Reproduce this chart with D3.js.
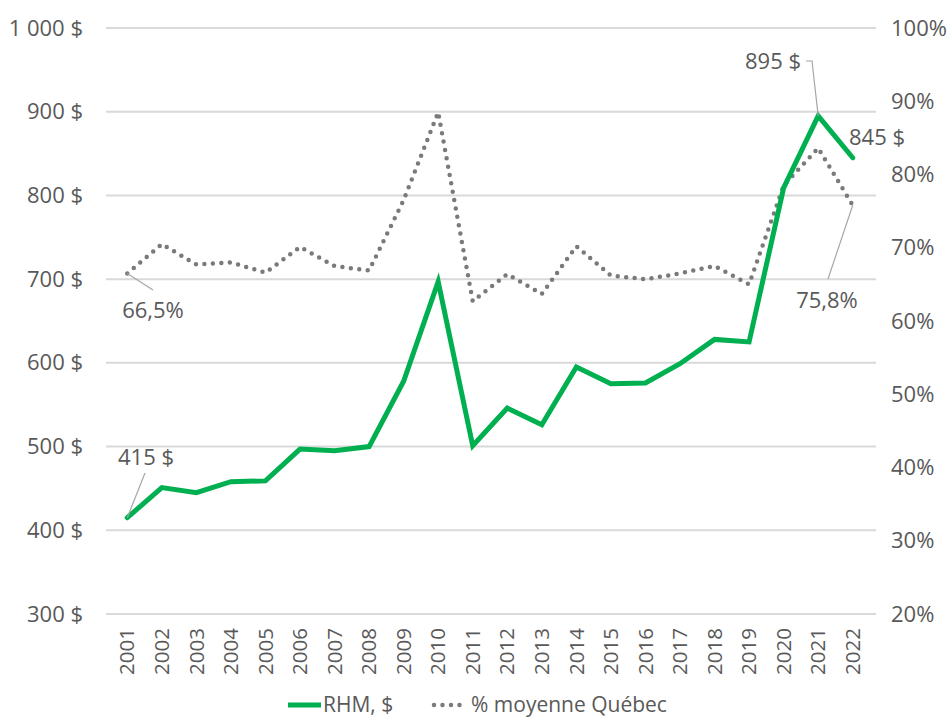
<!DOCTYPE html>
<html>
<head>
<meta charset="utf-8">
<script src="https://cdn.jsdelivr.net/npm/d3@7"></script>
<style>
  body { margin: 0; background: #fff; }
  text { font-family: "Open Sans", sans-serif; fill: #595959; }
</style>
</head>
<body>
<div id="chart"></div>
<script>
// Data
const years = ["2001", "2002", "2003", "2004", "2005", "2006", "2007", "2008", "2009", "2010", "2011",
  "2012", "2013", "2014", "2015", "2016", "2017", "2018", "2019", "2020", "2021", "2022"];
const rhm = [415, 451, 445, 458, 459, 497, 495, 500, 578, 697, 501,
  546, 526, 595, 575, 576, 599, 628, 625, 809, 895, 845];
const pctQuebec = [66.5, 70.5, 67.7, 68.0, 66.6, 70.1, 67.5, 66.9, 76.5, 88.5, 62.7,
  66.4, 63.7, 70.2, 66.2, 65.7, 66.5, 67.5, 65.0, 78.5, 83.6, 75.8];
const leftTicks = [300, 400, 500, 600, 700, 800, 900, 1000];
const rightTicks = [20, 30, 40, 50, 60, 70, 80, 90, 100];

const width = 952, height = 720;
const margin = { top: 28, right: 82, bottom: 106, left: 110 };

const svg = d3.select("#chart").append("svg")
  .attr("width", width)
  .attr("height", height);

const x = d3.scaleBand()
  .domain(years)
  .range([margin.left, width - margin.right]);

const yLeft = d3.scaleLinear()
  .domain([300, 1000])
  .range([height - margin.bottom, margin.top]);

const yRight = d3.scaleLinear()
  .domain([20, 100])
  .range([height - margin.bottom, margin.top]);

const cx = (d) => x(d) + x.bandwidth() / 2;
const fmtMoney = (v) => d3.format(",")(v).replace(",", " ") + " $";

// gridlines
svg.append("g")
  .selectAll("line")
  .data(leftTicks)
  .join("line")
  .attr("x1", margin.left - 4)
  .attr("x2", width - margin.right + 6)
  .attr("y1", (d) => yLeft(d))
  .attr("y2", (d) => yLeft(d))
  .attr("stroke", "#d9d9d9")
  .attr("stroke-width", 2);

// left axis
const leftAxis = svg.append("g")
  .attr("transform", "translate(" + (margin.left - 24) + ",0)")
  .call(d3.axisLeft(yLeft).tickValues(leftTicks).tickFormat(fmtMoney).tickSize(0));
leftAxis.select(".domain").remove();
leftAxis.selectAll("text").style("font-size", "22px").attr("fill", "#595959");

// right axis
const rightAxis = svg.append("g")
  .attr("transform", "translate(" + (width - margin.right + 18) + ",0)")
  .call(d3.axisRight(yRight).tickValues(rightTicks).tickFormat((d) => d + "%").tickSize(0));
rightAxis.select(".domain").remove();
rightAxis.selectAll("text").style("font-size", "22px").attr("fill", "#595959");

// bottom axis, rotated labels
const bottomAxis = svg.append("g")
  .attr("transform", "translate(0," + (height - margin.bottom + 12) + ")")
  .call(d3.axisBottom(x).tickSize(0));
bottomAxis.select(".domain").remove();
bottomAxis.selectAll("text")
  .style("font-size", "20.5px")
  .attr("fill", "#595959")
  .attr("text-anchor", "end")
  .attr("transform", "rotate(-90)")
  .attr("x", -2)
  .attr("y", 0)
  .attr("dy", "0.35em");

// dotted % line
const pctLine = d3.line()
  .x((d, i) => cx(years[i]))
  .y((d) => yRight(d));

svg.append("path")
  .datum(pctQuebec)
  .attr("d", pctLine)
  .attr("fill", "none")
  .attr("stroke", "#7a7a7a")
  .attr("stroke-width", 4.5)
  .attr("stroke-linecap", "round")
  .attr("stroke-dasharray", "0 8.5");

// green RHM line
const rhmLine = d3.line()
  .x((d, i) => cx(years[i]))
  .y((d) => yLeft(d));

svg.append("path")
  .datum(rhm)
  .attr("d", rhmLine)
  .attr("fill", "none")
  .attr("stroke", "#00b050")
  .attr("stroke-width", 5)
  .attr("stroke-linejoin", "miter")
  .attr("stroke-linecap", "round");

// data labels with leader lines
const last = years.length - 1;
const labels = [
  { yr: 0, y: yLeft(rhm[0]), text: fmtMoney(rhm[0]), tx: 146, ty: 457,
    leader: [[145, 473]] },
  { yr: 0, y: yRight(pctQuebec[0]), text: "66,5%", tx: 153, ty: 310,
    leader: [[153, 290]] },
  { yr: 20, y: yLeft(rhm[20]), text: fmtMoney(rhm[20]), tx: 773, ty: 61,
    leader: [[812, 61], [806, 61]] },
  { yr: last, y: yLeft(rhm[last]), text: fmtMoney(rhm[last]), tx: 877, ty: 137,
    leader: null },
  { yr: last, y: yRight(pctQuebec[last]), text: "75,8%", tx: 827, ty: 300,
    leader: [[828, 279]] },
];

labels.forEach((l) => {
  if (l.leader) {
    const pts = [[cx(years[l.yr]), l.y]].concat(l.leader);
    svg.append("path")
      .attr("d", d3.line()(pts))
      .attr("fill", "none")
      .attr("stroke", "#a6a6a6")
      .attr("stroke-width", 1.2);
  }
  svg.append("text")
    .attr("x", l.tx)
    .attr("y", l.ty)
    .attr("dy", "0.35em")
    .attr("text-anchor", "middle")
    .style("font-size", "22px")
    .text(l.text);
});

// legend
const legend = svg.append("g").attr("transform", "translate(0,705)");
legend.append("line")
  .attr("x1", 288).attr("x2", 321)
  .attr("y1", 0).attr("y2", 0)
  .attr("stroke", "#00b050")
  .attr("stroke-width", 5);
legend.append("text")
  .attr("x", 323).attr("y", 0).attr("dy", "0.35em")
  .style("font-size", "21px")
  .text("RHM, $");
legend.append("line")
  .attr("x1", 434).attr("x2", 467)
  .attr("y1", 0).attr("y2", 0)
  .attr("stroke", "#7a7a7a")
  .attr("stroke-width", 4.5)
  .attr("stroke-linecap", "round")
  .attr("stroke-dasharray", "0 8.5");
legend.append("text")
  .attr("x", 471).attr("y", 0).attr("dy", "0.35em")
  .style("font-size", "21px")
  .text("% moyenne Québec");
</script>
</body>
</html>
